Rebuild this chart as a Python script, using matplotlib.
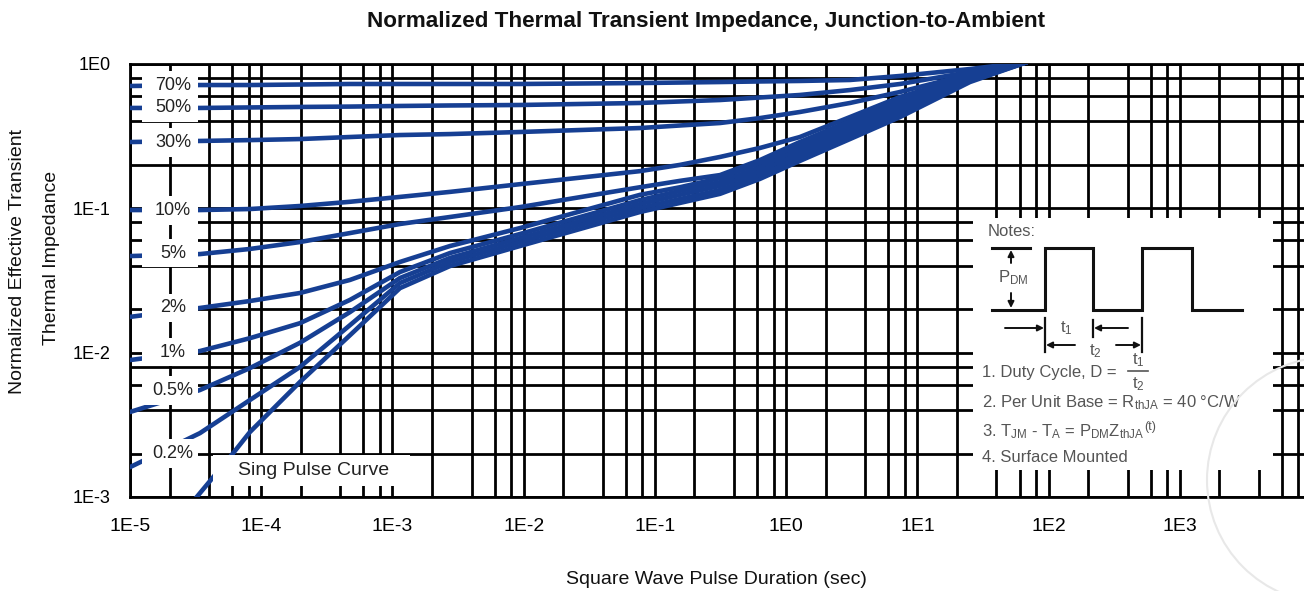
import numpy as np
import matplotlib
matplotlib.use('Agg')
import matplotlib.pyplot as plt
from matplotlib.ticker import FixedLocator, FuncFormatter, NullFormatter
from matplotlib.patches import Rectangle, Circle
from matplotlib.transforms import IdentityTransform

plt.rcParams['font.family'] = ['Liberation Sans', 'DejaVu Sans']
plt.rcParams['mathtext.fontset'] = 'custom'
plt.rcParams['mathtext.rm'] = 'Liberation Sans'
plt.rcParams['mathtext.it'] = 'Liberation Sans:italic'
plt.rcParams['mathtext.bf'] = 'Liberation Sans:bold'

# pulse duration (s) where the duty-cycle curves were read
t_read = [1e-5, 3.41e-5, 8.2e-5, 1.97e-4, 4.74e-4, 1.14e-3, 2.74e-3, 9.36e-3,
          7.68e-2, 0.155, 0.313, 0.631, 1.27, 3.06, 7.36, 25.1, 68.2]

z_70 = [0.704, 0.715, 0.715, 0.721, 0.727, 0.727, 0.727, 0.727, 0.738, 0.744, 0.750, 0.757, 0.763, 0.775, 0.826, 0.923, 1.03]
z_50 = [0.496, 0.496, 0.500, 0.504, 0.507, 0.512, 0.516, 0.520, 0.537, 0.550, 0.563, 0.586, 0.610, 0.660, 0.727, 0.880, 1.03]
z_30 = [0.288, 0.293, 0.297, 0.302, 0.312, 0.322, 0.327, 0.338, 0.360, 0.375, 0.390, 0.422, 0.465, 0.537, 0.640, 0.852, 1.03]
z_10 = [0.0973, 0.0973, 0.0989, 0.1038, 0.111, 0.120, 0.130, 0.147, 0.181, 0.200, 0.227, 0.262, 0.312, 0.429, 0.591, 0.826, 1.03]
z_5 = [0.0467, 0.0482, 0.0523, 0.0584, 0.0674, 0.0779, 0.0871, 0.102, 0.140, 0.155, 0.170, 0.216, 0.288, 0.403, 0.563, 0.813, 1.03]
z_2 = [0.0177, 0.0204, 0.0228, 0.0259, 0.0319, 0.0425, 0.0548, 0.0730, 0.124, 0.140, 0.162, 0.206, 0.275, 0.384, 0.537, 0.800, 1.03]
z_1 = [0.00889, 0.01026, 0.0126, 0.0160, 0.0232, 0.0362, 0.0490, 0.0664, 0.114, 0.132, 0.152, 0.193, 0.258, 0.366, 0.504, 0.787, 1.03]
z_05 = [0.00388, 0.00551, 0.00782, 0.0117, 0.0191, 0.0329, 0.0453, 0.0622, 0.107, 0.124, 0.143, 0.181, 0.242, 0.343, 0.480, 0.775, 1.03]
z_02 = [0.00161, 0.00277, 0.00470, 0.00795, 0.0155, 0.0304, 0.0425, 0.0584, 0.1005, 0.116, 0.134, 0.170, 0.227, 0.322, 0.457, 0.762, 1.03]

# single pulse curve
t_single = [2.87e-5, 4.44e-5, 6.10e-5, 8.2e-5, 1.97e-4, 4.74e-4, 1.14e-3, 2.74e-3, 9.36e-3,
            7.68e-2, 0.155, 0.313, 0.631, 1.27, 3.06, 7.36, 25.1, 68.2]
z_single = [0.00088, 0.00142, 0.00201, 0.00282, 0.00626, 0.0132, 0.0280, 0.0398, 0.0548,
            0.0943, 0.109, 0.126, 0.160, 0.213, 0.302, 0.429, 0.750, 1.03]

duty_labels = ['70%', '50%', '30%', '10%', '5%', '2%', '1%', '0.5%', '0.2%']
duty_curves = [z_70, z_50, z_30, z_10, z_5, z_2, z_1, z_05, z_02]
label_z = [0.715, 0.496, 0.284, 0.097, 0.049, 0.0204, 0.0101, 0.0055, 0.0020]

x_major = [1e-5, 1e-4, 1e-3, 1e-2, 1e-1, 1e0, 1e1, 1e2, 1e3]
y_major = [1e-3, 1e-2, 1e-1, 1e0]

blue = '#163f93'
grid_lw = 2.0

fig = plt.figure(figsize=(13.04, 5.91), dpi=100)
ax = fig.add_axes([130/1304, 1-497/591, 1-130/1304, (497-64)/591])
ax.set_xscale('log')
ax.set_yscale('log')
ax.set_xlim(1e-5, 10**3.945)
ax.set_ylim(1e-3, 1)

fmt = FuncFormatter(lambda v, p: '1E%d' % int(round(np.log10(v))))
ax.xaxis.set_major_locator(FixedLocator(x_major))
ax.xaxis.set_minor_locator(FixedLocator([m * d for d in x_major for m in (2, 4, 6, 8)]))
ax.yaxis.set_major_locator(FixedLocator(y_major))
ax.yaxis.set_minor_locator(FixedLocator([m * d for d in y_major[:-1] for m in (2, 4, 6, 8)]))
for a in (ax.xaxis, ax.yaxis):
    a.set_major_formatter(fmt)
    a.set_minor_formatter(NullFormatter())

ax.grid(True, which='both', color='black', lw=grid_lw)
ax.set_axisbelow(True)
ax.tick_params(which='both', length=0)
ax.tick_params(axis='x', labelsize=14, pad=15)
ax.tick_params(axis='y', labelsize=13, pad=14)
for side in ['left', 'top', 'bottom']:
    ax.spines[side].set_linewidth(grid_lw)
    ax.spines[side].set_color('black')
ax.spines['right'].set_visible(False)

for z in duty_curves:
    ax.plot(t_read, z, color=blue, lw=3.3, solid_capstyle='round',
            solid_joinstyle='round', zorder=3)
ax.plot(t_single, z_single, color=blue, lw=3.3, solid_capstyle='round',
        solid_joinstyle='round', zorder=3)

# white label boxes in the left column
box_x0, box_x1 = 1.234e-5, 3.30e-5
fac = 10**0.1
for lab, zl in zip(duty_labels, label_z):
    ax.add_patch(Rectangle((box_x0, zl/fac), box_x1-box_x0, zl*fac - zl/fac,
                           facecolor='white', edgecolor='none', zorder=4))
for lab, zl in zip(duty_labels, label_z):
    ax.text(2.13e-5, zl, lab, ha='center', va='center', fontsize=13,
            color='#222222', zorder=5)

ax.add_patch(Rectangle((4.28e-5, 0.00119), 1.36e-3-4.28e-5, 0.00195-0.00119,
                       facecolor='white', edgecolor='none', zorder=4))
ax.text(6.6e-5, 0.00153, 'Sing Pulse Curve', ha='left', va='center',
        fontsize=14, color='#222222', zorder=5)

# notes inset
axn = fig.add_axes([973/1304, 1-470/591, 300/1304, 252/591])
axn.set_xlim(973, 1273)
axn.set_ylim(470, 218)
axn.set_xticks([])
axn.set_yticks([])
for s in axn.spines.values():
    s.set_visible(False)
axn.set_facecolor('white')

gray = '#555555'
fs = 12
axn.text(988, 232, 'Notes:', ha='left', va='center', fontsize=fs, color=gray)
wx = [992, 1045, 1045, 1093, 1093, 1142, 1142, 1192, 1192, 1242]
wy = [310, 310, 248, 248, 310, 310, 248, 248, 310, 310]
axn.plot(wx, wy, color='#111111', lw=2.2, solid_joinstyle='miter')
axn.plot([992, 1030], [248, 248], color='#111111', lw=2.2)
ap = dict(arrowstyle='-|>', color='#111111', lw=1.4, mutation_scale=9,
          shrinkA=0, shrinkB=0)
axn.annotate('', xy=(1011, 250), xytext=(1011, 263), arrowprops=ap)
axn.annotate('', xy=(1011, 308), xytext=(1011, 293), arrowprops=ap)
axn.text(1013, 278, r'P$_{\mathrm{DM}}$', ha='center', va='center', fontsize=fs, color=gray)
axn.plot([1045, 1045], [318, 352], color='#111111', lw=1.6)
axn.plot([1093, 1093], [320, 337], color='#111111', lw=1.6)
axn.plot([1142, 1142], [318, 352], color='#111111', lw=1.6)
axn.annotate('', xy=(1044, 328), xytext=(1005, 328), arrowprops=ap)
axn.annotate('', xy=(1094, 328), xytext=(1128, 328), arrowprops=ap)
axn.annotate('', xy=(1046, 345), xytext=(1075, 345), arrowprops=ap)
axn.annotate('', xy=(1141, 345), xytext=(1116, 345), arrowprops=ap)
axn.text(1066, 328, r't$_{1}$', ha='center', va='center', fontsize=fs, color=gray)
axn.text(1095, 351, r't$_{2}$', ha='center', va='center', fontsize=fs, color=gray)

axn.text(982, 373, '1. Duty Cycle, D =', ha='left', va='center', fontsize=fs, color=gray)
axn.text(1138, 360, r't$_{1}$', ha='center', va='center', fontsize=fs, color=gray)
axn.plot([1128, 1148], [371, 371], color=gray, lw=1.2)
axn.text(1138, 384, r't$_{2}$', ha='center', va='center', fontsize=fs, color=gray)
axn.text(982, 403, r'2. Per Unit Base = R$_{\mathrm{thJA}}$ = 40 °C/W', ha='left',
         va='center', fontsize=fs, color=gray)
t3 = axn.text(982, 432, r'3. T$_{\mathrm{JM}}$ - T$_{\mathrm{A}}$ = P$_{\mathrm{DM}}$Z$_{\mathrm{thJA}}$',
              ha='left', va='center', fontsize=fs, color=gray)
axn.annotate('(t)', xy=(1, 0.45), xycoords=t3, xytext=(0, 0), textcoords='offset points',
             ha='left', va='bottom', fontsize=9, color=gray)
axn.text(982, 458, '4. Surface Mounted', ha='left', va='center', fontsize=fs, color=gray)

# titles and axis labels
fig.text(706/1304, 1-22/591, 'Normalized Thermal Transient Impedance, Junction-to-Ambient',
         ha='center', va='center', fontsize=16.2, fontweight='bold', color='#111111')
fig.text(716/1304, 1-580/591, 'Square Wave Pulse Duration (sec)', ha='center',
         va='center', fontsize=14, color='#111111')
fig.text(18/1304, 1-261/591, 'Normalized Effective Transient', rotation=90,
         ha='center', va='center', fontsize=14, color='#111111')
fig.text(52/1304, 1-258/591, 'Thermal Impedance', rotation=90,
         ha='center', va='center', fontsize=14, color='#111111')

# faint watermark ring
fig.add_artist(Circle((1330, 591-480), 123, transform=IdentityTransform(),
                      facecolor='none', edgecolor='#e8e8e8', lw=1.5, zorder=10))

fig.savefig('out.png', dpi=100)
